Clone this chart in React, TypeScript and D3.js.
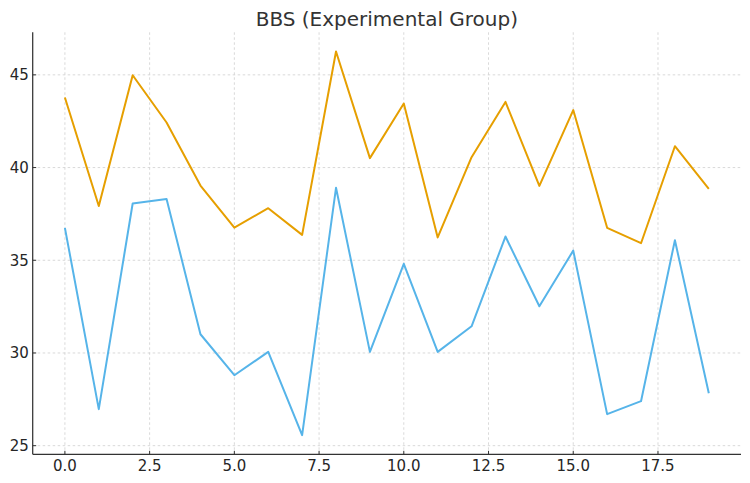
import React, { useEffect, useRef } from "react";
import * as d3 from "d3";

const indices = d3.range(20);
const orangeSeries = [43.78, 37.93, 44.98, 42.43, 39.03, 36.76, 37.81, 36.37, 46.26, 40.51, 43.45, 36.23, 40.56, 43.54, 39.01, 43.1, 36.75, 35.92, 41.15, 38.85];
const blueSeries = [36.75, 26.97, 38.06, 38.31, 31.01, 28.8, 30.06, 25.57, 38.91, 30.06, 34.81, 30.06, 31.44, 36.28, 32.52, 35.52, 26.7, 27.4, 36.08, 27.83];
const xTicks = [0, 2.5, 5, 7.5, 10, 12.5, 15, 17.5];
const yTicks = [25, 30, 35, 40, 45];
const title = "BBS (Experimental Group)";

const W = 750;
const H = 483;
const M = { left: 32.7, right: 9, top: 32.3, bottom: 28.7 };

export default function App() {
  const ref = useRef<SVGSVGElement>(null);
  useEffect(() => {
    const svg = d3.select(ref.current);
    svg.selectAll("*").remove();
    const font = "DejaVu Sans, sans-serif";
    const xMin = 0, xMax = indices.length - 1;
    const xm = (xMax - xMin) * 0.05;
    const all = orangeSeries.concat(blueSeries);
    const yMin = d3.min(all)!, yMax = d3.max(all)!;
    const ym = (yMax - yMin) * 0.05;
    const x = d3.scaleLinear().domain([xMin - xm, xMax + xm]).range([M.left, W - M.right]);
    const y = d3.scaleLinear().domain([yMin - ym, yMax + ym]).range([H - M.bottom, M.top]);

    const grid = svg.append("g");
    xTicks.forEach((t) => {
      grid.append("line").attr("x1", x(t)).attr("x2", x(t)).attr("y1", M.top).attr("y2", H - M.bottom)
        .attr("stroke", "#cfcfcf").attr("stroke-width", 0.8).attr("stroke-dasharray", "2.5,2.5");
    });
    yTicks.forEach((t) => {
      grid.append("line").attr("x1", M.left).attr("x2", W - M.right).attr("y1", y(t)).attr("y2", y(t))
        .attr("stroke", "#cfcfcf").attr("stroke-width", 0.8).attr("stroke-dasharray", "2.5,2.5");
    });

    const line = d3.line<number>().x((_, i) => x(indices[i])).y((d) => y(d));
    svg.append("path").datum(orangeSeries).attr("d", line).attr("fill", "none")
      .attr("stroke", "#E69F00").attr("stroke-width", 2).attr("stroke-linejoin", "round");
    svg.append("path").datum(blueSeries).attr("d", line).attr("fill", "none")
      .attr("stroke", "#56B4E9").attr("stroke-width", 2).attr("stroke-linejoin", "round");

    const axisColor = "#333333";
    svg.append("line").attr("x1", M.left).attr("x2", M.left).attr("y1", M.top).attr("y2", H - M.bottom)
      .attr("stroke", axisColor).attr("stroke-width", 1.25);
    svg.append("line").attr("x1", M.left).attr("x2", W - M.right).attr("y1", H - M.bottom).attr("y2", H - M.bottom)
      .attr("stroke", axisColor).attr("stroke-width", 1.25);

    xTicks.forEach((t) => {
      svg.append("line").attr("x1", x(t)).attr("x2", x(t)).attr("y1", H - M.bottom).attr("y2", H - M.bottom - 3.5)
        .attr("stroke", axisColor).attr("stroke-width", 1);
      svg.append("text").attr("x", x(t)).attr("y", H - M.bottom + 16.8).attr("text-anchor", "middle")
        .attr("font-family", font).attr("font-size", 15).attr("fill", "#262626").text(t.toFixed(1));
    });
    yTicks.forEach((t) => {
      svg.append("line").attr("x1", M.left).attr("x2", M.left + 3.5).attr("y1", y(t)).attr("y2", y(t))
        .attr("stroke", axisColor).attr("stroke-width", 1);
      svg.append("text").attr("x", M.left - 3.8).attr("y", y(t)).attr("dy", "0.36em").attr("text-anchor", "end")
        .attr("font-family", font).attr("font-size", 15).attr("fill", "#262626").text(String(t));
    });

    svg.append("text").attr("x", (M.left + W - M.right) / 2).attr("y", 25.7).attr("text-anchor", "middle")
      .attr("font-family", font).attr("font-size", 20).attr("fill", "#333333").text(title);
  }, []);
  return (
    <svg ref={ref} width={W} height={H} style={{ position: "absolute", left: 0, top: 0, background: "#fff" }} />
  );
}
